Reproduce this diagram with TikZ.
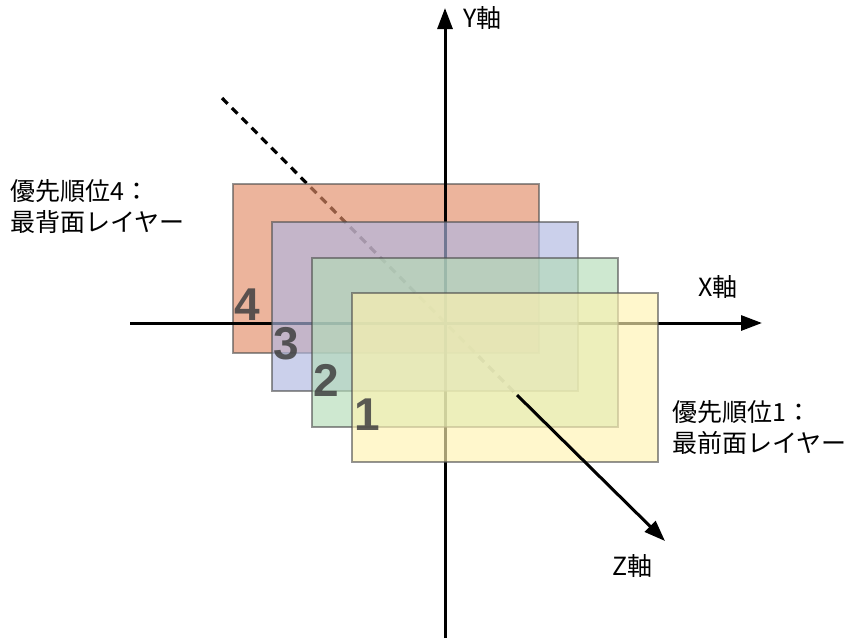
\documentclass[tikz,border=0pt]{standalone}
\usepackage{fontspec}
\setmainfont{Noto Sans CJK JP}
\newfontfamily\numfont{Liberation Sans}
\usetikzlibrary{arrows.meta}

\definecolor{layerfour}{RGB}{226,140,103}
\definecolor{layerthree}{RGB}{175,183,225}
\definecolor{layertwo}{RGB}{180,220,183}
\definecolor{layerone}{RGB}{255,243,177}

\begin{document}
\begin{tikzpicture}[x=1pt,y=-1pt]
\tikzstyle{every node}=[inner sep=0pt]
\tikzstyle{layer}=[draw=black!70, draw opacity=.6, fill opacity=.65, line width=1.2pt, minimum width=306pt, minimum height=169pt]
\tikzstyle{num}=[anchor=west, text=black!75, text opacity=.85, font=\numfont\bfseries\fontsize{46}{46}\selectfont]
\tikzstyle{axis}=[line width=3pt, -{Triangle[length=21pt,width=15pt]}]
\tikzstyle{lbl}=[anchor=west, align=left, font=\fontsize{25}{31}\selectfont]
\useasboundingbox (0,0) rectangle (850,638);
% axis ends
\coordinate (xs) at (130,323);
\coordinate (xe) at (762,323);
\coordinate (ys) at (445,638);
\coordinate (ye) at (445,8);
\coordinate (zs) at (222,98);
\coordinate (zm) at (517,395);
\coordinate (ze) at (665,541);
% z axis behind the layers
\draw[line width=3.2pt, dash pattern=on 8pt off 6pt] (zs) -- (zm);
% back layer
\node[layer, fill=layerfour] (L4) at (386,268.5) {};
\node[num] (n4) at ([shift={(2,121)}]L4.north west) {4};
\draw[axis] (xs) -- (xe);
\draw[axis] (ys) -- (ye);
% other layers
\node[layer, fill=layerthree] (L3) at (425,306.5) {};
\node[num] (n3) at ([shift={(2,122)}]L3.north west) {3};
\node[layer, fill=layertwo] (L2) at (465,342.5) {};
\node[num] (n2) at ([shift={(2,123)}]L2.north west) {2};
\node[layer, fill=layerone] (L1) at (505,377.5) {};
\node[num] (n1) at ([shift={(3,122)}]L1.north west) {1};
\draw[axis] (zm) -- (ze);
% labels
\node[lbl] (ylbl) at (463,18) {Y軸};
\node[lbl] (xlbl) at (698,287) {X軸};
\node[lbl] (zlbl) at (612,566) {Z軸};
\node[lbl] (back) at (10,206.5) {優先順位4：\\最背面レイヤー};
\node[lbl] (front) at (672,427) {優先順位1：\\最前面レイヤー};
\end{tikzpicture}
\end{document}
